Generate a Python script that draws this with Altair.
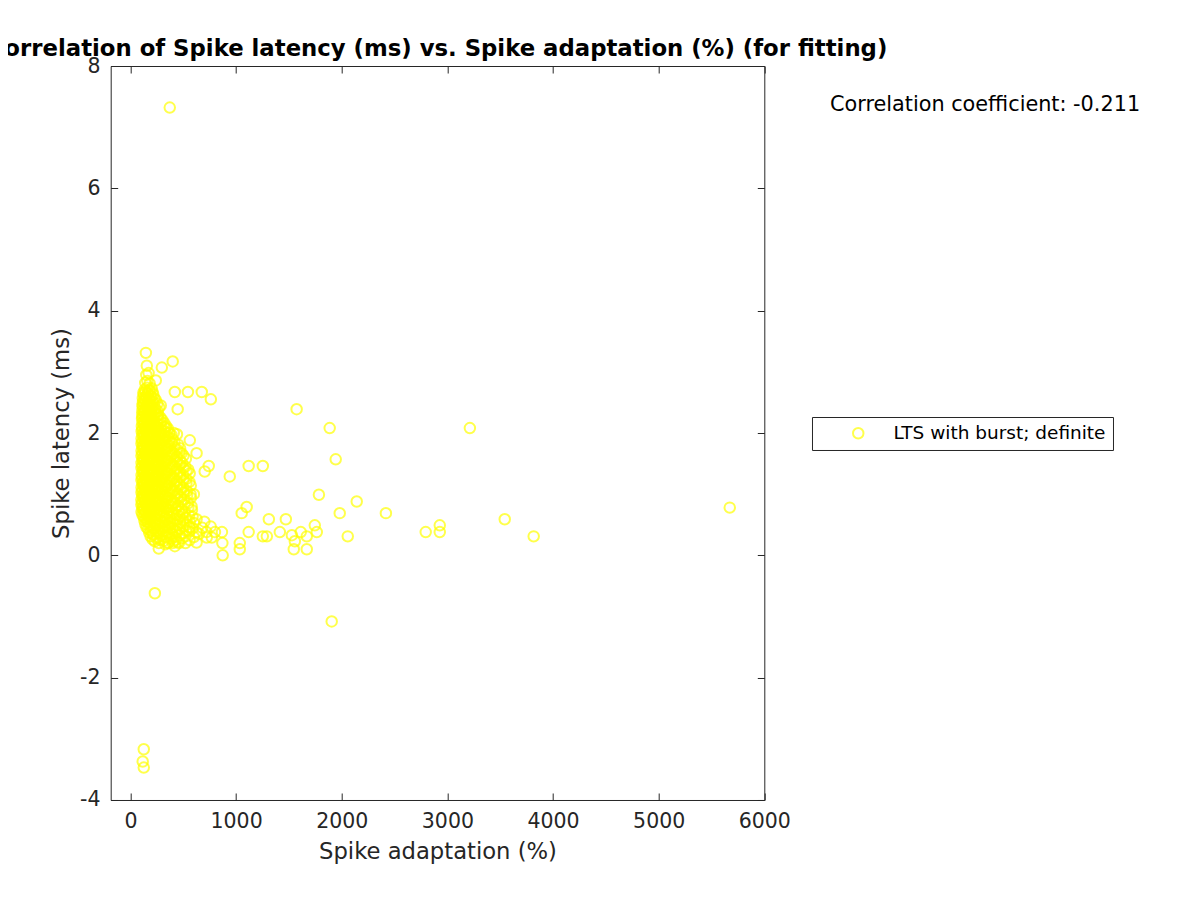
import altair as alt
import pandas as pd

# ---- values ----
group_name = "LTS with burst; definite"
corr_text = "Correlation coefficient: -0.211"
x_ticks = [0, 1000, 2000, 3000, 4000, 5000, 6000]
y_ticks = [-4, -2, 0, 2, 4, 6, 8]

# dense cluster, row by row (adaptation %, latency ms)
core_adapt_rows = [
    [150, 172],
    [140, 160, 182],
    [135, 158, 176, 201],
    [126, 146, 167, 189, 216],
    [119, 141, 162, 184, 211, 238],
    [116, 134, 157, 179, 206, 233, 272],
    [112, 131, 151, 176, 199, 231, 264],
    [110, 129, 147, 171, 196, 224, 261, 302],
    [108, 127, 145, 169, 194, 226, 254, 291, 338],
    [106, 124, 143, 167, 191, 214, 246, 281, 322, 368],
    [105, 123, 141, 163, 187, 209, 241, 269, 311, 352, 398],
    [104, 121, 143, 161, 185, 211, 239, 272, 304, 346, 391, 452],
    [105, 122, 141, 163, 186, 212, 241, 268, 306, 344, 389, 441],
    [104, 123, 142, 161, 187, 209, 242, 271, 303, 347, 392, 438, 502],
    [105, 121, 143, 162, 185, 211, 239, 269, 307, 344, 388, 442, 488],
    [104, 122, 141, 163, 186, 210, 241, 271, 304, 346, 391, 439, 501, 548],
    [105, 123, 142, 161, 187, 211, 240, 268, 306, 345, 389, 441, 499, 561],
    [104, 121, 143, 162, 185, 209, 241, 272, 305, 343, 392, 440, 502, 558],
    [105, 122, 141, 163, 186, 212, 239, 270, 303, 347, 390, 438, 498, 571],
    [104, 123, 142, 166, 191, 214, 246, 274, 311, 349, 396, 446, 504, 569],
    [103, 120, 141, 164, 189, 216, 244, 276, 309, 351, 394, 444, 506, 572],
    [103, 121, 143, 166, 191, 219, 251, 279, 316, 354, 401, 451, 511, 579],
    [105, 122, 146, 169, 196, 221, 249, 286, 319, 361, 404, 456, 514, 582],
    [126, 146, 171, 194, 226, 254, 291, 329, 371, 414, 466, 521, 588],
    [141, 166, 194, 226, 259, 296, 334, 376, 419, 471, 529, 601],
    [166, 194, 226, 259, 296, 334, 376, 421, 469, 526, 589],
    [191, 219, 256, 289, 331, 369, 416, 464, 521],
    [231, 269, 316, 359, 411, 459],
    # in-between rows
    [122, 140, 161, 182, 208],
    [117, 133, 152, 174, 198, 226],
    [114, 131, 150, 172, 197, 224, 255],
    [113, 131, 151, 173, 198, 226, 256],
    [113, 132, 152, 174, 198, 225, 256, 285],
    [113, 132, 152, 174, 198, 225, 255, 288, 320],
    [113, 132, 152, 174, 198, 225, 255, 288, 325, 355],
    [113, 132, 152, 174, 198, 225, 255, 288, 325, 368, 388],
    [113, 132, 152, 174, 198, 225, 255, 288, 325, 368, 415],
    [113, 132, 152, 174, 198, 225, 255, 288, 325, 368, 415, 470],
    [113, 132, 152, 174, 198, 225, 255, 288, 325, 368, 415, 466],
    [113, 132, 152, 174, 198, 225, 255, 288, 325, 368, 415, 470, 525],
    [113, 132, 152, 174, 198, 225, 255, 288, 325, 368, 415, 470, 520],
    [113, 132, 152, 174, 198, 225, 255, 288, 325, 368, 415, 470, 530],
    [113, 132, 152, 174, 198, 225, 255, 288, 325, 368, 415, 470, 530],
    [113, 132, 152, 174, 198, 225, 255, 288, 325, 368, 415, 470, 530],
    [113, 132, 153, 177, 202, 230, 260, 292, 330, 372, 420, 475, 536],
    [112, 131, 153, 177, 202, 230, 260, 292, 330, 372, 420, 475, 536],
    [111, 131, 153, 177, 204, 233, 264, 296, 334, 377, 425, 480, 545],
    [113, 133, 157, 182, 208, 235, 267, 302, 340, 382, 430, 485, 548],
    [114, 135, 158, 182, 210, 240, 272, 310, 350, 392, 440, 493, 555],
    [132, 155, 180, 210, 242, 275, 312, 352, 395, 442, 498, 562],
    [152, 180, 210, 242, 278, 315, 355, 398, 445, 498, 560],
    [178, 207, 240, 272, 310, 350, 392, 440, 492, 555],
    [210, 245, 285, 338, 385, 435, 490],
]
core_latency_rows = [
    [2.95, 2.98],
    [2.82, 2.85, 2.81],
    [2.71, 2.74, 2.70, 2.73],
    [2.63, 2.60, 2.64, 2.61, 2.63],
    [2.51, 2.54, 2.50, 2.53, 2.51, 2.54],
    [2.43, 2.40, 2.44, 2.41, 2.43, 2.40, 2.42],
    [2.31, 2.34, 2.30, 2.33, 2.31, 2.34, 2.30],
    [2.23, 2.20, 2.24, 2.21, 2.23, 2.20, 2.24, 2.21],
    [2.11, 2.14, 2.10, 2.13, 2.11, 2.14, 2.10, 2.13, 2.11],
    [2.03, 2.00, 2.04, 2.01, 2.03, 2.00, 2.04, 2.01, 2.03, 2.00],
    [1.91, 1.94, 1.90, 1.93, 1.91, 1.94, 1.90, 1.93, 1.91, 1.94, 1.90],
    [1.83, 1.80, 1.84, 1.81, 1.83, 1.80, 1.84, 1.81, 1.83, 1.80, 1.84, 1.81],
    [1.71, 1.74, 1.70, 1.73, 1.71, 1.74, 1.70, 1.73, 1.71, 1.74, 1.70, 1.73],
    [1.63, 1.60, 1.64, 1.61, 1.63, 1.60, 1.64, 1.61, 1.63, 1.60, 1.64, 1.61, 1.63],
    [1.51, 1.54, 1.50, 1.53, 1.51, 1.54, 1.50, 1.53, 1.51, 1.54, 1.50, 1.53, 1.51],
    [1.43, 1.40, 1.44, 1.41, 1.43, 1.40, 1.44, 1.41, 1.43, 1.40, 1.44, 1.41, 1.43, 1.40],
    [1.31, 1.34, 1.30, 1.33, 1.31, 1.34, 1.30, 1.33, 1.31, 1.34, 1.30, 1.33, 1.31, 1.34],
    [1.23, 1.20, 1.24, 1.21, 1.23, 1.20, 1.24, 1.21, 1.23, 1.20, 1.24, 1.21, 1.23, 1.20],
    [1.11, 1.14, 1.10, 1.13, 1.11, 1.14, 1.10, 1.13, 1.11, 1.14, 1.10, 1.13, 1.11, 1.14],
    [1.03, 1.00, 1.04, 1.01, 1.03, 1.00, 1.04, 1.01, 1.03, 1.00, 1.04, 1.01, 1.03, 1.00],
    [0.91, 0.94, 0.90, 0.93, 0.91, 0.94, 0.90, 0.93, 0.91, 0.94, 0.90, 0.93, 0.91, 0.94],
    [0.83, 0.80, 0.84, 0.81, 0.83, 0.80, 0.84, 0.81, 0.83, 0.80, 0.84, 0.81, 0.83, 0.80],
    [0.71, 0.74, 0.70, 0.73, 0.71, 0.74, 0.70, 0.73, 0.71, 0.74, 0.70, 0.73, 0.71, 0.74],
    [0.63, 0.60, 0.64, 0.61, 0.63, 0.60, 0.64, 0.61, 0.63, 0.60, 0.64, 0.61, 0.63],
    [0.51, 0.54, 0.50, 0.53, 0.51, 0.54, 0.50, 0.53, 0.51, 0.54, 0.50, 0.53],
    [0.43, 0.40, 0.44, 0.41, 0.43, 0.40, 0.44, 0.41, 0.43, 0.40, 0.44],
    [0.31, 0.34, 0.30, 0.33, 0.31, 0.34, 0.30, 0.33, 0.31],
    [0.23, 0.20, 0.24, 0.21, 0.23, 0.20],
    # in-between rows
    [2.66, 2.68, 2.65, 2.69, 2.67],
    [2.57, 2.55, 2.58, 2.56, 2.59, 2.57],
    [2.46, 2.48, 2.45, 2.49, 2.47, 2.46, 2.48],
    [2.37, 2.35, 2.38, 2.36, 2.39, 2.37, 2.36],
    [2.26, 2.28, 2.25, 2.29, 2.27, 2.26, 2.28, 2.25],
    [2.17, 2.15, 2.18, 2.16, 2.19, 2.17, 2.15, 2.18, 2.16],
    [2.06, 2.08, 2.05, 2.09, 2.07, 2.06, 2.08, 2.05, 2.09, 2.07],
    [1.97, 1.95, 1.98, 1.96, 1.99, 1.97, 1.95, 1.98, 1.96, 1.99, 1.97],
    [1.86, 1.88, 1.85, 1.89, 1.87, 1.86, 1.88, 1.85, 1.89, 1.87, 1.86],
    [1.77, 1.75, 1.78, 1.76, 1.79, 1.77, 1.75, 1.78, 1.76, 1.79, 1.77, 1.75],
    [1.66, 1.68, 1.65, 1.69, 1.67, 1.66, 1.68, 1.65, 1.69, 1.67, 1.66, 1.68],
    [1.57, 1.55, 1.58, 1.56, 1.59, 1.57, 1.55, 1.58, 1.56, 1.59, 1.57, 1.55, 1.58],
    [1.46, 1.48, 1.45, 1.49, 1.47, 1.46, 1.48, 1.45, 1.49, 1.47, 1.46, 1.48, 1.45],
    [1.37, 1.35, 1.38, 1.36, 1.39, 1.37, 1.35, 1.38, 1.36, 1.39, 1.37, 1.35, 1.38],
    [1.26, 1.28, 1.25, 1.29, 1.27, 1.26, 1.28, 1.25, 1.29, 1.27, 1.26, 1.28, 1.25],
    [1.17, 1.15, 1.18, 1.16, 1.19, 1.17, 1.15, 1.18, 1.16, 1.19, 1.17, 1.15, 1.18],
    [1.06, 1.08, 1.05, 1.09, 1.07, 1.06, 1.08, 1.05, 1.09, 1.07, 1.06, 1.08, 1.05],
    [0.97, 0.95, 0.98, 0.96, 0.99, 0.97, 0.95, 0.98, 0.96, 0.99, 0.97, 0.95, 0.98],
    [0.86, 0.88, 0.85, 0.89, 0.87, 0.86, 0.88, 0.85, 0.89, 0.87, 0.86, 0.88, 0.85],
    [0.77, 0.75, 0.78, 0.76, 0.79, 0.77, 0.75, 0.78, 0.76, 0.79, 0.77, 0.75, 0.78],
    [0.66, 0.68, 0.65, 0.69, 0.67, 0.66, 0.68, 0.65, 0.69, 0.67, 0.66, 0.68, 0.65],
    [0.57, 0.55, 0.58, 0.56, 0.59, 0.57, 0.55, 0.58, 0.56, 0.59, 0.57, 0.55],
    [0.46, 0.48, 0.45, 0.49, 0.47, 0.46, 0.48, 0.45, 0.49, 0.47, 0.46],
    [0.37, 0.35, 0.38, 0.36, 0.39, 0.37, 0.35, 0.38, 0.36, 0.39],
    [0.26, 0.28, 0.25, 0.29, 0.27, 0.26, 0.28],
]

# scattered points outside the dense cluster
outer_adapt = [
    372, 3213, 5673, 3817, 3543, 2928, 2928, 2795, 2418, 2142,
    2057, 1981, 1943, 1886, 1905, 1784, 1764, 1745, 1669, 1669,
    1612, 1556, 1546, 1528, 1573, 1471, 1414, 1310, 1291, 1253,
    1253, 1119, 1100, 1053, 1119, 1035, 1035, 940, 866, 870,
    873, 760, 770, 722, 741, 703, 761, 675, 544, 420,
    400, 297, 146, 155, 240, 287, 447, 335, 410, 440,
    562, 626, 484, 600, 626, 626, 268, 231, 126, 116,
    126, 720, 800, 626, 560, 600, 680, 650, 700, 560,
    520, 330, 350, 400, 450, 420,
]
outer_latency = [
    7.32, 2.08, 0.78, 0.31, 0.59, 0.49, 0.38, 0.38, 0.69, 0.88,
    0.31, 0.69, 1.57, 2.08, -1.08, 0.99, 0.38, 0.49, 0.31, 0.10,
    0.38, 0.23, 0.10, 0.33, 2.39, 0.59, 0.38, 0.59, 0.31, 0.31,
    1.46, 1.46, 0.79, 0.69, 0.38, 0.20, 0.10, 1.29, 0.38, 0.20,
    0.00, 0.47, 0.29, 0.29, 1.46, 1.37, 2.55, 2.67, 2.67, 2.67,
    3.17, 3.07, 3.31, 3.10, 2.86, 2.45, 2.39, 2.08, 2.00, 1.98,
    1.88, 1.67, 1.67, 1.00, 0.59, 0.21, 0.11, -0.62, -3.17, -3.37,
    -3.47, 0.38, 0.38, 0.38, 0.45, 0.30, 0.45, 0.35, 0.55, 0.25,
    0.20, 0.18, 0.20, 0.20, 0.22, 0.15,
]

adapt = [v for row in core_adapt_rows for v in row] + outer_adapt
latency = [v for row in core_latency_rows for v in row] + outer_latency
df = pd.DataFrame({"adapt": adapt, "latency": latency, "group": group_name})

FONT = "DejaVu Sans"
AX = "#262626"
x_scale = alt.Scale(domain=[-187, 6000], nice=False, zero=False)
y_scale = alt.Scale(domain=[-4, 8], nice=False, zero=False)

x_bottom = alt.Axis(values=x_ticks, orient="bottom", offset=-7, tickSize=7, domain=False,
                    grid=False, labelPadding=12, labelExpr="'' + datum.value", labelFlush=False,
                    title="Spike adaptation (%)", titlePadding=8)
y_left = alt.Axis(values=y_ticks, orient="left", offset=-7, tickSize=7, domain=False,
                  grid=False, labelPadding=10.7, labelExpr="'' + datum.value", labelFlush=False,
                  title="Spike latency (ms)", titlePadding=6)
x_top = alt.Axis(values=x_ticks, orient="top", offset=-7, tickSize=7, domain=False,
                 grid=False, labels=False, title=None)
y_right = alt.Axis(values=y_ticks, orient="right", offset=-7, tickSize=7, domain=False,
                   grid=False, labels=False, title=None)

points = alt.Chart(df).mark_point(shape="circle", filled=False, size=110, strokeWidth=2).encode(
    x=alt.X("adapt:Q", scale=x_scale, axis=x_bottom),
    y=alt.Y("latency:Q", scale=y_scale, axis=y_left),
    color=alt.Color("group:N", scale=alt.Scale(domain=[group_name], range=["#FFFF00"]),
                    legend=alt.Legend(orient="none", legendX=701.3, legendY=351, title=None,
                                      strokeColor="#262626", fillColor="white", padding=7,
                                      symbolOffset=30, labelOffset=26, labelLimit=0,
                                      labelFont=FONT, labelFontSize=18.5, labelColor="black",
                                      symbolType="circle", symbolSize=110, symbolStrokeWidth=2)),
)

mirror = alt.Chart(df).mark_point(opacity=0).encode(
    x=alt.X("adapt:Q", scale=x_scale, axis=x_top),
    y=alt.Y("latency:Q", scale=y_scale, axis=y_right),
)

note = alt.Chart(pd.DataFrame({"t": [corr_text]})).mark_text(
    align="left", baseline="alphabetic", font=FONT, fontSize=20.8, color="black"
).encode(x=alt.value(719.3), y=alt.value(45), text="t:N")

chart = alt.layer(points, mirror, note).resolve_axis(x="independent", y="independent").properties(
    width=653.6, height=734,
    title=alt.TitleParams("Correlation of Spike latency (ms) vs. Spike adaptation (%) (for fitting)",
                          font=FONT, fontSize=22.8, fontWeight="bold", color="black",
                          anchor="middle", baseline="bottom", offset=9, dy=37),
    autosize=alt.AutoSizeParams(type="none"),
    padding={"left": 102.7, "top": 58, "right": 420, "bottom": 80},
).configure_view(stroke=AX, strokeWidth=1).configure_axis(
    labelFont=FONT, labelFontSize=20.5, labelColor=AX, tickColor=AX, tickWidth=1,
    titleFont=FONT, titleFontSize=22.7, titleFontWeight="normal", titleColor=AX,
)

chart.save("out.html", embed_options={"renderer": "svg", "actions": False})
